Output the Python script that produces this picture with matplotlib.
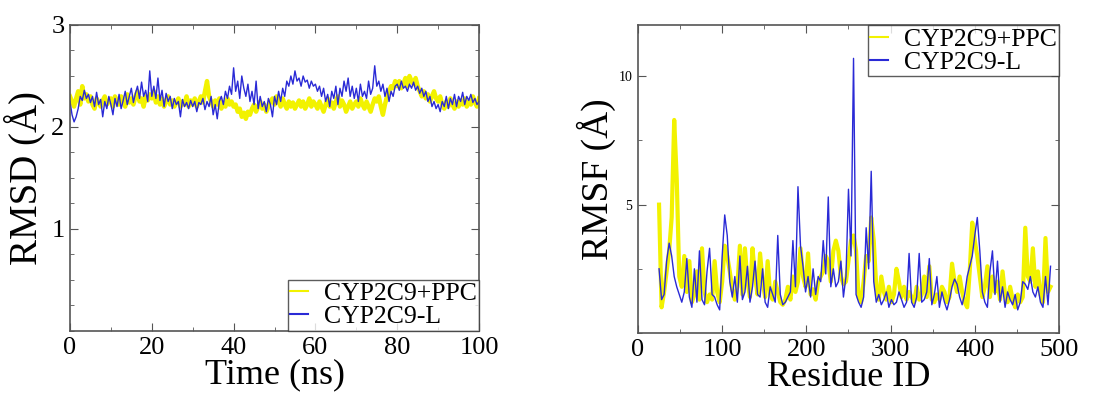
import numpy as np
import matplotlib.pyplot as plt
from matplotlib.ticker import MultipleLocator

plt.rcParams['font.family'] = ['Liberation Serif', 'DejaVu Serif']

# RMSD vs time (ns), sampled every 0.5 ns
time_ns = np.arange(0, 100.5, 0.5)
rmsd_l = [
    2.25, 2.12, 2.05, 2.10, 2.18, 2.30, 2.26, 2.36, 2.28, 2.32, 2.24, 2.30, 2.20, 2.34, 2.22, 2.27, 2.10, 2.25, 2.18, 2.30,
    2.22, 2.12, 2.28, 2.20, 2.32, 2.18, 2.26, 2.35, 2.22, 2.30, 2.38, 2.24, 2.33, 2.40, 2.28, 2.44, 2.30, 2.36, 2.25, 2.55,
    2.30, 2.40, 2.28, 2.48, 2.26, 2.36, 2.20, 2.33, 2.25, 2.30, 2.18, 2.28, 2.22, 2.25, 2.10, 2.27, 2.20, 2.24, 2.18, 2.26,
    2.20, 2.25, 2.15, 2.24, 2.22, 2.28, 2.17, 2.25, 2.20, 2.30, 2.12, 2.22, 2.08, 2.25, 2.30, 2.22, 2.35, 2.28, 2.40, 2.32,
    2.58, 2.35, 2.45, 2.28, 2.50, 2.38, 2.30, 2.42, 2.25, 2.35, 2.22, 2.45, 2.18, 2.30, 2.20, 2.25, 2.15, 2.28, 2.22, 2.10,
    2.30, 2.22, 2.35, 2.25, 2.38, 2.30, 2.45, 2.40, 2.50, 2.42, 2.55, 2.45, 2.48, 2.40, 2.50, 2.44, 2.46, 2.38, 2.45, 2.40,
    2.42, 2.35, 2.40, 2.30, 2.38, 2.25, 2.32, 2.20, 2.35, 2.28, 2.40, 2.22, 2.38, 2.30, 2.45, 2.35, 2.48, 2.30, 2.40, 2.28,
    2.38, 2.25, 2.42, 2.30, 2.35, 2.28, 2.45, 2.32, 2.38, 2.60, 2.40, 2.45, 2.35, 2.42, 2.30, 2.38, 2.25, 2.35, 2.30, 2.40,
    2.42, 2.36, 2.45, 2.38, 2.40, 2.35, 2.42, 2.38, 2.44, 2.36, 2.40, 2.33, 2.38, 2.30, 2.35, 2.25, 2.30, 2.20, 2.25, 2.18,
    2.22, 2.15, 2.25, 2.20, 2.30, 2.18, 2.28, 2.22, 2.32, 2.20, 2.30, 2.25, 2.34, 2.22, 2.30, 2.26, 2.32, 2.24, 2.28, 2.22, 2.25,
]
rmsd_ppc = [
    2.30, 2.25, 2.20, 2.28, 2.35, 2.22, 2.40, 2.28, 2.32, 2.25, 2.30, 2.22, 2.18, 2.28, 2.24, 2.20, 2.26, 2.30, 2.22, 2.25,
    2.28, 2.20, 2.30, 2.25, 2.22, 2.30, 2.26, 2.20, 2.32, 2.24, 2.28, 2.22, 2.30, 2.35, 2.25, 2.28, 2.20, 2.30, 2.26, 2.32,
    2.28, 2.35, 2.24, 2.30, 2.22, 2.28, 2.20, 2.25, 2.30, 2.22, 2.26, 2.20, 2.24, 2.28, 2.20, 2.25, 2.22, 2.30, 2.20, 2.26,
    2.22, 2.28, 2.20, 2.25, 2.30, 2.24, 2.35, 2.45, 2.30, 2.25, 2.20, 2.26, 2.22, 2.28, 2.18, 2.24, 2.20, 2.28, 2.22, 2.25,
    2.20, 2.22, 2.15, 2.18, 2.10, 2.14, 2.08, 2.15, 2.12, 2.18, 2.22, 2.15, 2.20, 2.25, 2.18, 2.22, 2.15, 2.20, 2.25, 2.28,
    2.22, 2.30, 2.25, 2.20, 2.28, 2.22, 2.18, 2.25, 2.20, 2.24, 2.18, 2.22, 2.26, 2.20, 2.25, 2.18, 2.22, 2.28, 2.20, 2.25,
    2.22, 2.18, 2.25, 2.20, 2.15, 2.22, 2.28, 2.20, 2.24, 2.18, 2.25, 2.30, 2.20, 2.26, 2.22, 2.15, 2.20, 2.25, 2.18, 2.22,
    2.25, 2.20, 2.28, 2.22, 2.18, 2.25, 2.20, 2.15, 2.22, 2.28, 2.25, 2.30, 2.20, 2.12, 2.22, 2.30, 2.35, 2.40, 2.38, 2.45,
    2.40, 2.45, 2.38, 2.42, 2.48, 2.40, 2.50, 2.45, 2.42, 2.48, 2.40, 2.35, 2.30, 2.35, 2.28, 2.32, 2.25, 2.30, 2.35, 2.28,
    2.25, 2.30, 2.22, 2.18, 2.25, 2.20, 2.28, 2.22, 2.18, 2.25, 2.20, 2.26, 2.22, 2.28, 2.20, 2.25, 2.22, 2.30, 2.24, 2.20, 2.28,
]

# RMSF per residue, every 3rd residue from 25 to 490
residue = np.arange(25, 491, 3)
rmsf_ppc = [
    5.0, 1.0, 1.6, 2.4, 3.2, 4.5, 8.3, 6.0, 2.2, 1.8,
    3.0, 1.6, 2.8, 1.2, 1.5, 2.4, 1.3, 3.3, 1.6, 1.2,
    1.5, 1.3, 2.8, 1.6, 1.2, 2.0, 3.4, 3.0, 2.4, 1.7,
    1.3, 1.8, 3.4, 1.5, 3.3, 2.0, 1.4, 3.3, 2.2, 1.5,
    3.1, 2.0, 1.4, 2.8, 1.5, 1.3, 2.0, 1.6, 1.2, 1.1,
    1.3, 1.8, 1.3, 2.2, 1.6, 2.0, 3.3, 2.2, 1.8, 3.1,
    1.5, 1.7, 1.3, 2.0, 2.2, 2.4, 3.0, 2.8, 2.0, 3.2,
    3.6, 3.2, 2.2, 1.9, 2.0, 2.8, 3.6, 3.8, 3.2, 1.4,
    1.2, 2.0, 3.0, 2.8, 4.5, 3.6, 1.8, 1.3, 2.2, 1.6,
    1.3, 1.8, 1.2, 1.5, 2.5, 2.0, 1.4, 1.8, 1.3, 1.6,
    1.4, 1.2, 1.8, 1.3, 1.5, 2.2, 1.4, 2.6, 1.3, 1.2,
    1.5, 1.3, 1.8, 1.6, 1.2, 1.4, 2.7, 2.0, 1.6, 2.2,
    1.6, 1.2, 1.0, 2.4, 4.3, 3.6, 3.0, 2.2, 1.4, 1.8,
    2.6, 1.4, 2.2, 1.6, 2.0, 1.3, 2.4, 1.5, 1.2, 1.8,
    1.3, 1.0, 1.5, 1.2, 1.4, 4.1, 2.2, 2.0, 3.3, 1.8,
    2.4, 1.5, 1.2, 3.7, 1.6, 1.8,
]
rmsf_l = [
    2.5, 1.3, 1.5, 2.8, 3.5, 3.0, 2.2, 1.8, 1.5, 1.2,
    1.6, 2.9, 1.4, 1.0, 2.5, 1.2, 3.2, 1.3, 1.1, 2.4,
    3.3, 1.5, 1.4, 1.1, 0.9, 3.0, 4.6, 3.8, 2.0, 1.4,
    2.2, 1.2, 3.0, 1.3, 1.6, 2.6, 1.2, 1.8, 2.8, 1.5,
    1.4, 2.5, 1.2, 1.0, 1.8, 1.5, 1.2, 3.8, 1.5, 1.1,
    1.2, 1.4, 1.6, 3.6, 1.8, 5.7, 3.4, 2.6, 1.6, 2.2,
    1.4, 2.5, 1.5, 2.2, 2.0, 3.6, 2.3, 5.3, 1.8, 2.5,
    1.8, 2.0, 2.8, 1.4, 2.2, 5.6, 3.0, 10.7, 1.5, 1.2,
    1.0, 1.4, 4.1, 2.5, 6.3, 2.0, 1.2, 1.5, 1.1, 1.3,
    1.6, 1.0, 1.3, 1.1, 1.2, 1.6, 1.3, 1.0, 1.2, 3.1,
    1.2, 1.0, 1.4, 3.1, 1.2, 1.3, 1.6, 2.9, 1.1, 1.5,
    2.2, 1.0, 1.6, 1.2, 0.9, 1.3, 1.8, 2.1, 1.9, 1.4,
    1.1, 1.5, 2.2, 2.6, 3.0, 3.8, 4.5, 3.2, 1.6, 1.2,
    1.0, 2.4, 3.2, 1.5, 2.8, 1.2, 1.8, 1.0, 1.6, 1.3,
    1.1, 1.5, 0.9, 1.2, 2.0, 1.9, 1.7, 2.2, 1.6, 1.4,
    1.8, 1.2, 1.0, 2.2, 1.1, 2.6,
]

labels = ["CYP2C9+PPC", "CYP2C9-L"]
yellow = "#f2f200"
blue = "#2a2ad6"

fig = plt.figure(figsize=(11.04, 3.93), dpi=100)
ax1 = fig.add_axes([0.0634, 0.1578, 0.3705, 0.7786])
ax2 = fig.add_axes([0.5779, 0.1527, 0.3813, 0.7837])

# left: RMSD
ax1.plot(time_ns, rmsd_ppc, color=yellow, lw=3.2, label=labels[0])
ax1.plot(time_ns, rmsd_l, color=blue, lw=1.0, label=labels[1])
ax1.set_xlim(0, 100)
ax1.set_ylim(0, 3)
ax1.set_yticks([1, 2, 3])
ax1.xaxis.set_major_locator(MultipleLocator(20))
ax1.xaxis.set_minor_locator(MultipleLocator(10))
ax1.yaxis.set_minor_locator(MultipleLocator(0.25))
ax1.tick_params(labelsize=19)
ax1.set_xlabel("Time (ns)", fontsize=26, labelpad=0)
ax1.set_ylabel("RMSD (Å)", fontsize=28, labelpad=4)
leg1 = ax1.legend(loc="lower right", fontsize=18.5, handlelength=0.7, handletextpad=0.6,
                  borderaxespad=0, borderpad=0.1, labelspacing=0.0, fancybox=False)

# right: RMSF
ax2.plot(residue, rmsf_ppc, color=yellow, lw=3.0, label=labels[0])
ax2.plot(residue, rmsf_l, color=blue, lw=1.0, label=labels[1])
ax2.set_xlim(0, 500)
ax2.set_ylim(0, 12)
ax2.set_yticks([5, 10])
ax2.xaxis.set_major_locator(MultipleLocator(100))
ax2.xaxis.set_minor_locator(MultipleLocator(50))
ax2.yaxis.set_minor_locator(MultipleLocator(2.5))
ax2.tick_params(axis="x", labelsize=19)
ax2.tick_params(axis="y", labelsize=10)
ax2.set_xlabel("Residue ID", fontsize=26, labelpad=0)
ax2.set_ylabel("RMSF (Å)", fontsize=27, labelpad=2)
leg2 = ax2.legend(loc="upper right", fontsize=18.5, handlelength=0.7, handletextpad=0.6,
                  borderaxespad=0, borderpad=0.1, labelspacing=0.0, fancybox=False)

for ax, leg in [(ax1, leg1), (ax2, leg2)]:
    ax.tick_params(which="both", direction="in", top=True, right=True, color="#555555")
    ax.tick_params(which="major", length=6, pad=4)
    ax.tick_params(which="minor", length=3)
    for s in ax.spines.values():
        s.set_color("#555555")
        s.set_linewidth(1.2)
    leg.get_frame().set_edgecolor("#333333")
    leg.get_frame().set_linewidth(1.0)
    for line in leg.get_lines():
        line.set_linewidth(1.5)

fig.savefig("out.png", dpi=100)
